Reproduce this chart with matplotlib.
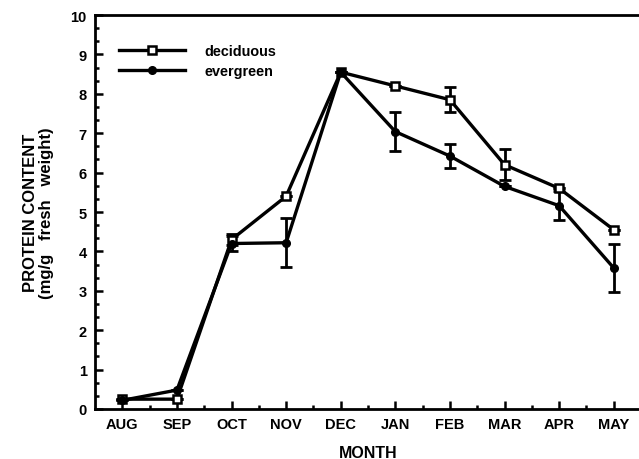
import matplotlib
matplotlib.use("Agg")
import matplotlib.pyplot as plt
from matplotlib.ticker import MultipleLocator
import numpy as np

months = ["AUG", "SEP", "OCT", "NOV", "DEC", "JAN", "FEB", "MAR", "APR", "MAY"]
deciduous = [0.25, 0.25, 4.3, 5.4, 8.55, 8.2, 7.85, 6.2, 5.6, 4.55]
deciduous_err = [0, 0, 0.15, 0, 0, 0, 0.32, 0.4, 0, 0]
evergreen = [0.22, 0.48, 4.2, 4.22, 8.55, 7.04, 6.42, 5.65, 5.16, 3.58]
evergreen_err = [0, 0, 0.2, 0.62, 0, 0.5, 0.31, 0, 0.37, 0.6]

plt.rcParams['font.family'] = ['Liberation Sans', 'DejaVu Sans']
plt.rcParams['font.weight'] = 'bold'

fig = plt.figure(figsize=(6.39, 4.60), dpi=100)
ax = fig.add_axes([0.1487, 0.1087, 0.8545, 0.8565])

x = np.arange(len(months))
k = "black"

ax.errorbar(x, deciduous, yerr=deciduous_err, fmt="none", ecolor=k,
            elinewidth=2, capsize=4, capthick=2, zorder=2)
ax.errorbar(x, evergreen, yerr=evergreen_err, fmt="none", ecolor=k,
            elinewidth=2, capsize=4, capthick=2, zorder=2)
ax.plot(x, deciduous, color=k, lw=2.4, marker="s", ms=5.5, mfc="white",
        mec=k, mew=1.8, label="deciduous", zorder=3)
ax.plot(x, evergreen, color=k, lw=2.4, marker="o", ms=5.5, mfc=k,
        mec=k, label="evergreen", zorder=3)

ax.set_xlim(-0.5, 9.5)
ax.set_ylim(0, 10)
ax.set_xticks(x)
ax.set_xticklabels(months)
ax.set_xticks(x[:-1] + 0.5, minor=True)
ax.yaxis.set_major_locator(MultipleLocator(1))
ax.yaxis.set_minor_locator(MultipleLocator(1 / 3))

ax.tick_params(which="major", direction="in", length=6, width=1.8,
               labelsize=10.5, pad=6)
ax.tick_params(which="minor", direction="in", length=3, width=1.8)
ax.tick_params(axis="x", which="both", top=False)
ax.tick_params(axis="y", which="both", right=False)

for s in ["left", "bottom", "top"]:
    ax.spines[s].set_linewidth(2)
ax.spines["right"].set_visible(False)

ax.set_xlabel("MONTH", fontsize=11.5, fontweight="bold", labelpad=10)
ax.set_ylabel("PROTEIN CONTENT\n(mg/g   fresh   weight)", fontsize=12,
              fontweight="bold", labelpad=12, linespacing=1.05)

ax.legend(loc="upper left", bbox_to_anchor=(0.02, 0.96), frameon=False,
          handlelength=4.6, handletextpad=1.3, fontsize=10.4,
          labelspacing=0.45)

plt.savefig("out.png", dpi=100)
